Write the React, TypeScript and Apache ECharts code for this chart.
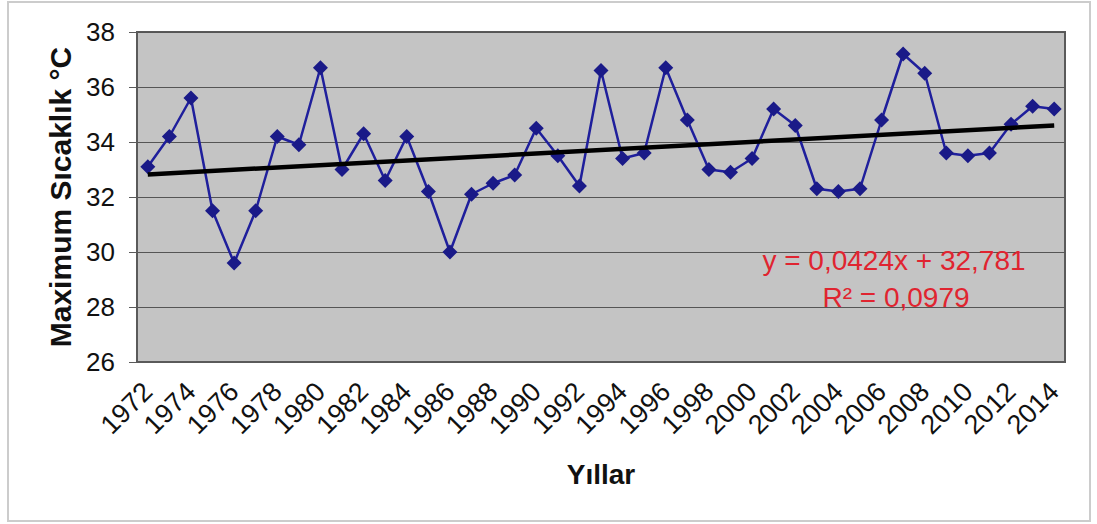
import React, { useEffect, useRef } from "react";
import * as echarts from "echarts";

const years: string[] = [
  "1972", "1973", "1974", "1975", "1976", "1977", "1978", "1979", "1980", "1981",
  "1982", "1983", "1984", "1985", "1986", "1987", "1988", "1989", "1990", "1991",
  "1992", "1993", "1994", "1995", "1996", "1997", "1998", "1999", "2000", "2001",
  "2002", "2003", "2004", "2005", "2006", "2007", "2008", "2009", "2010", "2011",
  "2012", "2013", "2014",
];

const maxTemps: number[] = [
  33.1, 34.2, 35.6, 31.5, 29.6, 31.5, 34.2, 33.9, 36.7, 33.0,
  34.3, 32.6, 34.2, 32.2, 30.0, 32.1, 32.5, 32.8, 34.5, 33.5,
  32.4, 36.6, 33.4, 33.6, 36.7, 34.8, 33.0, 32.9, 33.4, 35.2,
  34.6, 32.3, 32.2, 32.3, 34.8, 37.2, 36.5, 33.6, 33.5, 33.6,
  34.65, 35.3, 35.2,
];

// Trend line end points (from y = 0,0424x + 32,781 at x = 1 and x = 43)
const trendStart: number = 32.82;
const trendEnd: number = 34.60;

const equationLines: string[] = ["y = 0,0424x + 32,781", "R² = 0,0979"];

export default function App() {
  const ref = useRef<HTMLDivElement>(null);

  useEffect(() => {
    if (!ref.current) return;
    const chart = echarts.init(ref.current, null, { renderer: "svg" });
    const font = "Arial, 'Liberation Sans', Helvetica, sans-serif";
    chart.setOption({
      animation: false,
      backgroundColor: "#ffffff",
      textStyle: { fontFamily: font },
      grid: {
        left: 137,
        top: 32,
        right: 32,
        bottom: 162,
        show: true,
        backgroundColor: "#c4c4c4",
        borderColor: "#5a5a5a",
        borderWidth: 2,
      },
      xAxis: {
        type: "category",
        data: years,
        boundaryGap: true,
        name: "Yıllar",
        nameLocation: "middle",
        nameGap: 98,
        nameTextStyle: { fontSize: 28, fontWeight: "bold", color: "#111", fontFamily: font },
        axisLine: { show: true, lineStyle: { color: "#5a5a5a", width: 2 } },
        axisTick: { show: false },
        axisLabel: {
          interval: 1,
          rotate: 45,
          fontSize: 27,
          color: "#111",
          margin: 25,
          fontFamily: font,
        },
        splitLine: { show: false },
      },
      yAxis: {
        type: "value",
        min: 26,
        max: 38,
        interval: 2,
        name: "Maximum Sıcaklık °C",
        nameLocation: "middle",
        nameGap: 57,
        nameTextStyle: { fontSize: 30, fontWeight: "bold", color: "#111", fontFamily: font },
        axisLine: { show: true, lineStyle: { color: "#5a5a5a", width: 2 } },
        axisTick: { show: true, length: 8, inside: false, lineStyle: { color: "#5a5a5a", width: 1 } },
        axisLabel: { fontSize: 26, color: "#111", margin: 22, fontFamily: font },
        splitLine: { show: true, lineStyle: { color: "#555555", width: 1 } },
      },
      series: [
        {
          type: "line",
          data: maxTemps,
          symbol: "diamond",
          symbolSize: 15,
          showAllSymbol: true,
          itemStyle: { color: "#1a1a88" },
          lineStyle: { color: "#1f1f9c", width: 2.5 },
          z: 2,
          markLine: {
            silent: true,
            symbol: "none",
            label: { show: false },
            lineStyle: { color: "#000000", width: 4.5, type: "solid" },
            z: 3,
            data: [
              [
                { coord: [years[0], trendStart] },
                { coord: [years[years.length - 1], trendEnd] },
              ],
            ],
          },
        },
      ],
      graphic: [
        {
          type: "rect",
          shape: { x: 8, y: 2, width: 1082, height: 519 },
          style: { fill: "none", stroke: "#cccccc", lineWidth: 2 },
          silent: true,
          z: -10,
        },
        {
          type: "text",
          x: 894,
          y: 260,
          style: {
            text: equationLines[0],
            fill: "#e02430",
            fontSize: 28,
            fontFamily: font,
            align: "center",
            verticalAlign: "middle",
          },
          z: 10,
        },
        {
          type: "text",
          x: 896,
          y: 297,
          style: {
            text: equationLines[1],
            fill: "#e02430",
            fontSize: 28,
            fontFamily: font,
            align: "center",
            verticalAlign: "middle",
          },
          z: 10,
        },
      ],
    });
    return () => {
      chart.dispose();
    };
  }, []);

  return (
    <div
      ref={ref}
      style={{ position: "fixed", left: 0, top: 0, width: 1097, height: 524 }}
    />
  );
}
